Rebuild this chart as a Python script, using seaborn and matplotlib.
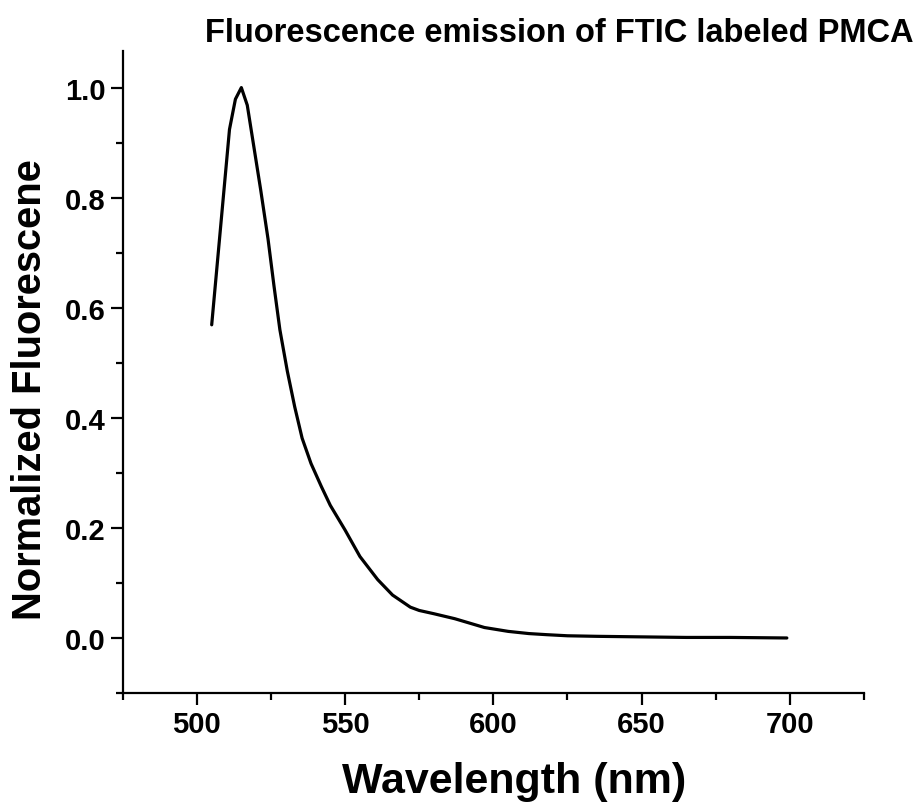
import matplotlib
matplotlib.use("Agg")
import matplotlib.pyplot as plt
from matplotlib.ticker import MultipleLocator, FormatStrFormatter
import seaborn as sns
import pandas as pd

wavelength = [505, 511, 513, 515, 517, 519, 521.5, 524, 526, 528, 530.5, 533,
              535.5, 538.5, 542, 545, 550, 555, 561, 566, 572, 575, 580, 587,
              592, 597, 605, 612, 618, 625, 635, 650, 665, 680, 699]
fluorescence = [0.569, 0.924, 0.979, 1.000, 0.968, 0.900, 0.815, 0.725, 0.640,
                0.560, 0.485, 0.420, 0.363, 0.317, 0.275, 0.241, 0.196, 0.148,
                0.106, 0.078, 0.056, 0.050, 0.044, 0.035, 0.027, 0.019, 0.012,
                0.008, 0.006, 0.004, 0.003, 0.002, 0.001, 0.001, 0.000]

title_text = "Fluorescence emission of FTIC labeled PMCA"
x_label = "Wavelength (nm)"
y_label = "Normalized Fluorescene"

sns.set_style("ticks")
fam = ["Liberation Sans Narrow", "Liberation Sans", "DejaVu Sans"]
plt.rcParams["font.family"] = fam
plt.rcParams["font.weight"] = "bold"
plt.rcParams["text.color"] = "black"

df = pd.DataFrame({"wavelength": wavelength, "fluorescence": fluorescence})

fig = plt.figure(figsize=(9.23, 8.12), dpi=100)
ax = fig.add_axes([0.133, 0.1453, 0.803, 0.791])
sns.lineplot(data=df, x="wavelength", y="fluorescence", ax=ax,
             color="black", linewidth=2.3, sort=False)

ax.set_xlim(475, 725)
ax.set_ylim(-0.1, 1.067)
ax.xaxis.set_major_locator(MultipleLocator(50))
ax.xaxis.set_minor_locator(MultipleLocator(25))
ax.yaxis.set_major_locator(MultipleLocator(0.2))
ax.yaxis.set_minor_locator(MultipleLocator(0.1))
ax.yaxis.set_major_formatter(FormatStrFormatter("%.1f"))

for s in ["top", "right"]:
    ax.spines[s].set_visible(False)
for s in ["left", "bottom"]:
    ax.spines[s].set_linewidth(1.6)
    ax.spines[s].set_color("black")

ax.tick_params(which="major", direction="out", length=8.6, width=1.6,
               labelsize=21, pad=3.5, colors="black")
ax.tick_params(which="minor", direction="out", length=5, width=1.6,
               colors="black")
for lab in ax.get_xticklabels() + ax.get_yticklabels():
    lab.set_fontweight("bold")

ax.set_xlabel("")
ax.set_ylabel("")
fig.text(0.557, 0.037, x_label, ha="center", va="center", fontsize=31,
         fontweight="bold", color="black")
fig.text(0.033, 0.52, y_label, ha="center", va="center", rotation=90,
         fontsize=28.7, fontweight="bold", color="black")
fig.text(0.606, 0.959, title_text, ha="center", va="center", fontsize=23.5,
         fontweight="bold", color="black")

fig.savefig("out.png", dpi=100)
